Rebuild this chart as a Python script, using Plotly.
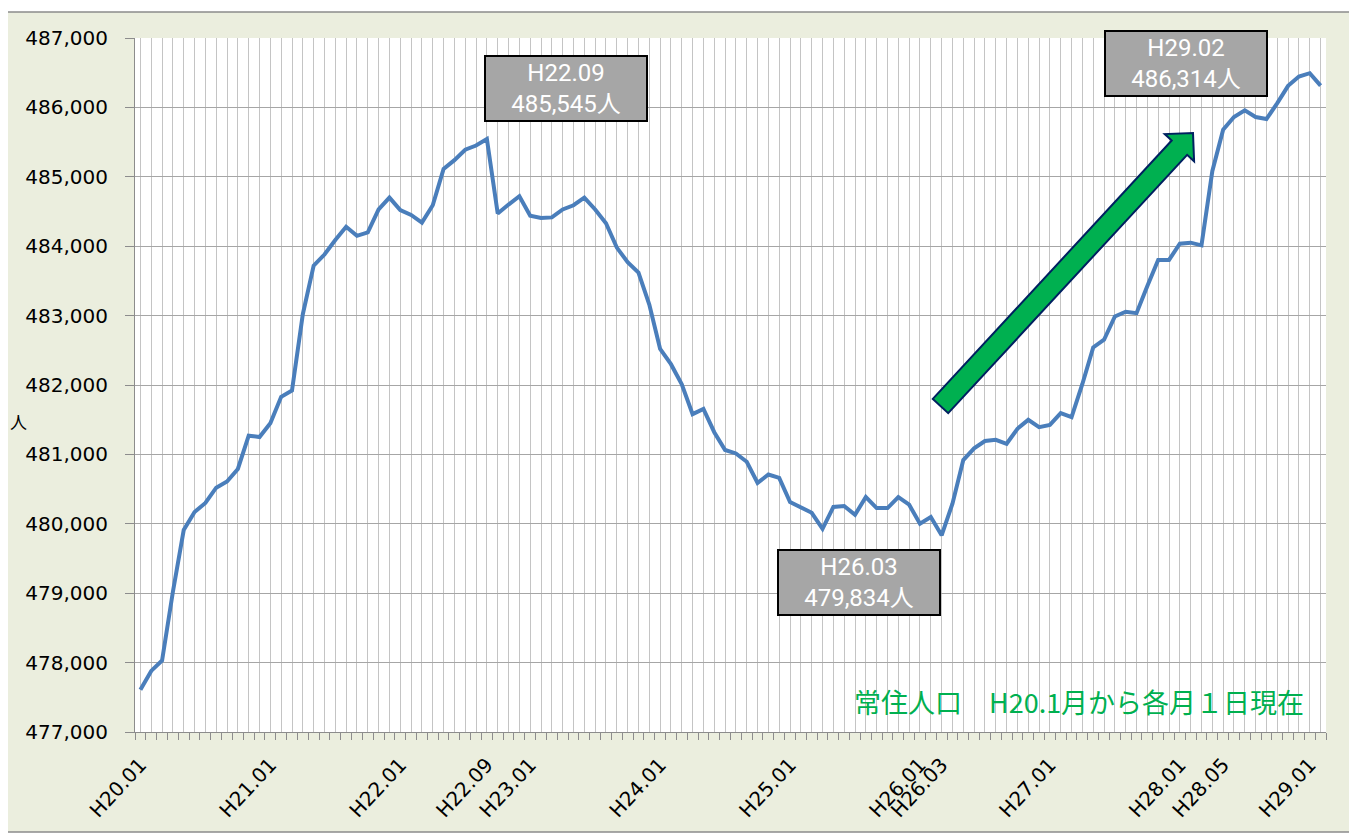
import math
import plotly.graph_objects as go

# ---- data (常住人口, monthly, H20.01 .. H29.02) ----
population = [
    477610, 477880, 478030, 479020, 479910, 480170, 480300, 480520, 480610, 480790, 481270, 481250,  # H20
    481450, 481830, 481920, 483020, 483720, 483880, 484090, 484280, 484150, 484200, 484530, 484700,  # H21
    484520, 484450, 484340, 484590, 485115, 485240, 485390, 485450, 485545, 484470, 484600, 484720,  # H22
    484440, 484406, 484415, 484530, 484590, 484700, 484530, 484330, 483980, 483770, 483620, 483160,  # H23
    482520, 482300, 482010, 481580, 481655, 481320, 481063, 481014, 480894, 480589, 480710, 480662,  # H24
    480314, 480242, 480159, 479928, 480242, 480256, 480130, 480386, 480227, 480227, 480386, 480275,  # H25
    480000, 480097, 479834, 480290, 480918, 481087, 481193, 481210, 481153, 481369, 481498, 481393,  # H26
    481426, 481594, 481536, 482015, 482542, 482652, 482988, 483055, 483035, 483428, 483802, 483802,  # H27
    484036, 484051, 484012, 485080, 485679, 485861, 485957, 485861, 485832, 486062, 486311, 486445,  # H28
    486493, 486314,                                                                                  # H29
]
heisei_years = [20, 21, 22, 23, 24, 25, 26, 27, 28, 29]
month_numbers = [1, 2, 3, 4, 5, 6, 7, 8, 9, 10, 11, 12]
months = [f"H{y}.{m:02d}" for y in heisei_years for m in month_numbers][:len(population)]

tick_labels = ["H20.01", "H21.01", "H22.01", "H22.09", "H23.01", "H24.01", "H25.01",
               "H26.01", "H26.03", "H27.01", "H28.01", "H28.05", "H29.01"]
callout_months = ["H22.09", "H26.03", "H29.02"]
y_ticks = [477000, 478000, 479000, 480000, 481000, 482000, 483000, 484000, 485000, 486000, 487000]
note_text = "常住人口　H20.1月から各月１日現在"

# ---- layout geometry (page pixels) ----
W, H = 1357, 833
OFF = 8  # default body margin of the page
L, R, T, B = 135, 31, 38, 101
PW, PH = W - L - R, H - T - B


def px(x):
    return (x - L) / PW


def py(y):
    return (H - B - y) / PH


xs = list(range(len(population)))

fig = go.Figure()
fig.add_trace(go.Scatter(
    x=xs, y=population, mode="lines",
    line=dict(color="#4A7EBB", width=4),
    text=months, hovertemplate="%{text}: %{y:,}人<extra></extra>",
    showlegend=False,
))

shapes = [
    dict(type="rect", xref="paper", yref="paper", layer="below",
         x0=px(5), x1=px(W + 5), y0=py(832), y1=py(12),
         fillcolor="#EBEEDE", line=dict(color="#8C8C8C", width=1.5)),
    dict(type="rect", xref="paper", yref="paper", layer="below",
         x0=0, x1=1, y0=0, y1=1, fillcolor="white", line=dict(width=0)),
]

# green block arrow
tail = (940.5, 406.0)
tip = (1193.0, 133.0)
dx, dy = tip[0] - tail[0], tip[1] - tail[1]
ln = math.hypot(dx, dy)
ux, uy = dx / ln, dy / ln
nx, ny = -uy, ux
sw, hw, hl = 10.5, 20.0, 20.0
hb = (tip[0] - ux * hl, tip[1] - uy * hl)
pts = [
    (tail[0] + nx * sw, tail[1] + ny * sw),
    (hb[0] + nx * sw, hb[1] + ny * sw),
    (hb[0] + nx * hw, hb[1] + ny * hw),
    tip,
    (hb[0] - nx * hw, hb[1] - ny * hw),
    (hb[0] - nx * sw, hb[1] - ny * sw),
    (tail[0] - nx * sw, tail[1] - ny * sw),
]
path = "M " + " L ".join(f"{px(a):.5f},{py(b):.5f}" for a, b in pts) + " Z"
shapes.append(dict(type="path", xref="paper", yref="paper", path=path,
                   fillcolor="#00B050", line=dict(color="#002060", width=2)))

annotations = []
callout_pos = {"H22.09": (566, 88.5), "H26.03": (859.5, 582), "H29.02": (1186, 63.5)}
for m in callout_months:
    v = population[months.index(m)]
    cx, cy = callout_pos[m]
    annotations.append(dict(
        xref="paper", yref="paper", x=px(cx), y=py(cy), xanchor="center", yanchor="middle",
        text=f"{m}<br>{v:,}人", showarrow=False, align="center",
        font=dict(family="Roboto, 'Noto Sans CJK JP'", size=24, color="white"),
        bgcolor="#A6A6A6", bordercolor="#000000", borderwidth=2, borderpad=0,
        width=160, height=63,
    ))

annotations.append(dict(
    xref="paper", yref="paper", x=px(1306), y=py(701), xanchor="right", yanchor="middle",
    text=note_text, showarrow=False,
    font=dict(family="'Noto Sans CJK JP'", size=27, color="#00B050"),
))
annotations.append(dict(
    xref="paper", yref="paper", x=px(18), y=py(421), xanchor="center", yanchor="middle",
    text="人", showarrow=False,
    font=dict(family="'Noto Sans CJK JP'", size=17, color="#000000"),
))

fig.update_layout(
    width=W - OFF, height=H - OFF,
    margin=dict(l=L - OFF, r=R, t=T - OFF, b=B, pad=0, autoexpand=False),
    paper_bgcolor="white", plot_bgcolor="white",
    shapes=shapes, annotations=annotations,
    xaxis=dict(
        range=[-0.5, len(population) - 0.5],
        tickmode="array", tickvals=xs,
        ticktext=[m if m in tick_labels else "" for m in months],
        tickangle=-47, ticks="", ticklabelstandoff=12, automargin=False,
        tickfont=dict(family="DejaVu Sans", size=20, color="#000000"),
        showgrid=True, gridcolor="#C4C4C4", gridwidth=1,
        showline=True, linecolor="#8C8C8C", linewidth=1,
        zeroline=False,
        minor=dict(tickmode="linear", tick0=-0.5, dtick=1, ticks="outside",
                   ticklen=7, tickcolor="#8C8C8C", tickwidth=1, showgrid=False),
    ),
    yaxis=dict(
        range=[477000, 487000], tickmode="array", tickvals=y_ticks,
        tickformat=",d", ticklabelstandoff=13, automargin=False,
        tickfont=dict(family="DejaVu Sans", size=20, color="#000000"),
        showgrid=True, gridcolor="#A6A6A6", gridwidth=1.2,
        ticks="outside", ticklen=9, tickcolor="#8C8C8C",
        showline=True, linecolor="#8C8C8C", linewidth=1,
        zeroline=False,
    ),
)

fig.write_html("out.html")
